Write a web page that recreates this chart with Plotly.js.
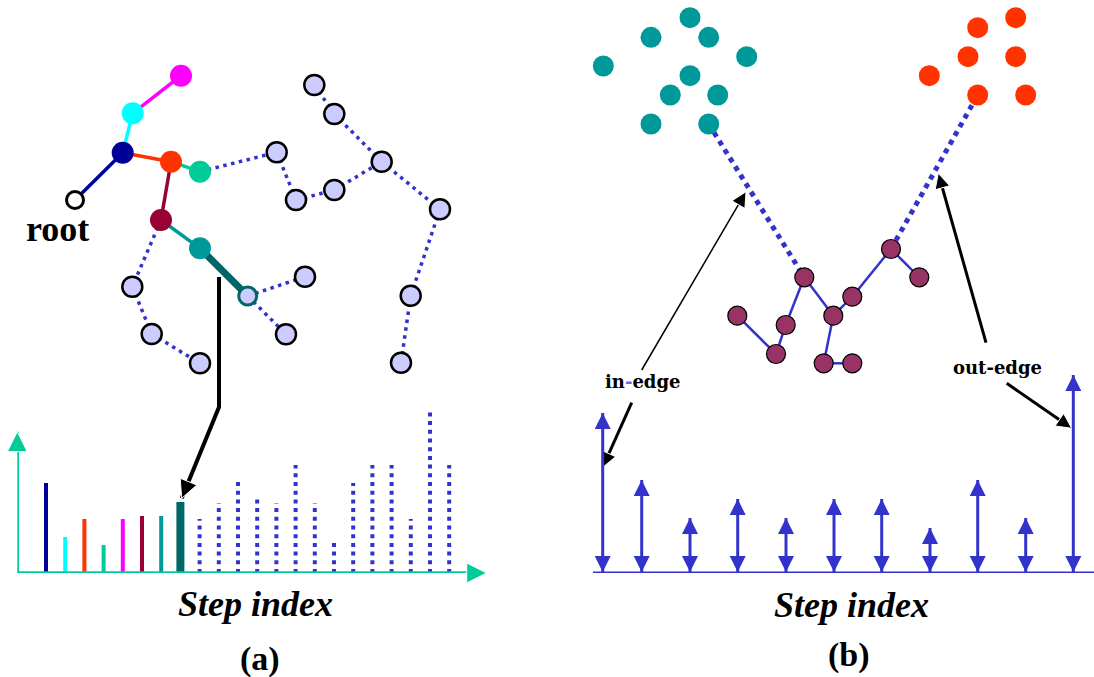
<!DOCTYPE html>
<html><head><meta charset="utf-8">
<script src="https://cdn.plot.ly/plotly-3.0.1.min.js"></script>
<style>html,body{margin:0;padding:0;background:#fff}#chart{width:1094px;height:677px}</style>
</head><body><div id="chart"></div>
<script>
// ================= DATA =================
// Panel (a): visited search-tree nodes (root first), diagram coordinates
const treeNodeX = [75, 122.7, 132.7, 181, 171, 200, 161, 200, 247.7];
const treeNodeY = [200, 152.7, 113.3, 75.7, 161.7, 171.7, 220, 248.3, 296];
// Panel (a): pending (not yet visited) nodes
const pendingNodeX = [314.3, 334.3, 276.7, 381.7, 296, 334.3, 440, 132.3, 305, 151.7, 286, 200, 410.7, 401];
const pendingNodeY = [85, 114, 152.3, 161.7, 200, 190, 209.3, 286.7, 276.7, 334, 334.3, 363.3, 295.7, 362.7];
// edges: indices into [tree nodes..., pending nodes...]
const treeEdges = [[0,1],[1,2],[2,3],[1,4],[4,5],[4,6],[6,7],[7,8]];
const pendingEdges = [[5,11],[11,13],[13,14],[14,12],[12,10],[10,9],[12,15],[15,21],[21,22],[6,16],[16,18],[18,20],[8,17],[8,19]];
// Panel (a): value per step index (first 8 steps are visited)
const stepIndexA = [0,1,2,3,4,5,6,7,8,9,10,11,12,13,14,15,16,17,18,19,20,21];
const stepValueA = [90,36,54,28,54,57,57,71,54,70,94,75,70,108,70,32,90,108,108,54,161,108];
const visitedStepsA = 8;
const stepAxisA = [-1.495, 22.953];
const stepAxisTopA = 141.3;
// Panel (a) callout arrow
const calloutAX = [219, 219, 181.7];
const calloutAY = [277, 407, 498.3];

// Panel (b): clusters
const tealClusterX = [690, 651, 708.7, 746.7, 603.3, 690, 670.3, 717.7, 651, 708.7];
const tealClusterY = [17.7, 37.3, 37.3, 56.7, 66, 75.7, 95, 95, 124, 124];
const redClusterX = [1015.7, 977.7, 968, 1015.7, 929.3, 977.7, 1025.7];
const redClusterY = [17.7, 27.7, 56.7, 56.7, 75.7, 95, 95];
const pathNodeX = [737.3, 776, 785.7, 804.3, 833.3, 823.7, 852.3, 852.3, 891, 919.3];
const pathNodeY = [315.7, 354, 325, 277.3, 315.7, 363.3, 363.3, 296.7, 249, 277.3];
const pathEdges = [[0,1],[1,2],[2,3],[3,4],[4,5],[5,6],[4,7],[7,8],[8,9]];
// in-edge: teal node 9 -> path node 3 ; out-edge: path node 8 -> red node 5
const inEdge = [9, 3];
const outEdge = [8, 5];
// Panel (b): step positions and in/out edge counts
const stepPosB = [602.7, 641.7, 690, 737.7, 786, 834, 881.7, 930, 977.7, 1025.7, 1073.3];
const stepValueB = [160, 93, 55, 74, 55, 74, 74, 45, 93, 55, 198];
const baselineB = [593, 1094];
// Panel (b) callout arrows [tailX, tailY, tipX, tipY]
const inEdgeArrowUp = [641.7, 370, 746, 191.7];
const inEdgeArrowDown = [631.7, 402.7, 602.7, 467.3];
const outEdgeArrowUp = [986, 342.7, 938.3, 173.3];
const outEdgeArrowDown = [1006.7, 383.3, 1071.7, 428.3];

// ================= STYLE =================
const BLUE = '#3333CC';
const treeNodeColors = ['#FFFFFF','#000099','#00FFFF','#FF00FF','#FF3300','#00CC99','#990033','#009999','#CCCCFF'];
const treeNodeLine = ['#000000','#000099','#00FFFF','#FF00FF','#FF3300','#00CC99','#990033','#009999','#006666'];
const treeNodeLineW = [3,0,0,0,0,0,0,0,3];
const treeNodeSize = [17,22,22,22,22,22,22,22,18];
const treeEdgeColors = ['#000099','#00FFFF','#FF00FF','#FF3300','#00CC99','#990033','#009999','#006666'];
const treeEdgeWidths = [3.5,3.5,3.5,3.5,3.5,3.5,3.5,7];
const barColorsA = ['#000099','#00FFFF','#FF3300','#00CC99','#FF00FF','#990033','#009999','#006666'];

const traces = [];
const allAX = treeNodeX.concat(pendingNodeX);
const allAY = treeNodeY.concat(pendingNodeY);
const base = {type:'scatter', hoverinfo:'skip', cliponaxis:false, showlegend:false};

// dotted pending edges (a)
(function(){
  const x=[], y=[];
  pendingEdges.forEach(([a,b])=>{x.push(allAX[a],allAX[b],null); y.push(allAY[a],allAY[b],null);});
  traces.push(Object.assign({}, base, {mode:'lines', x, y, line:{color:BLUE, width:3.5, dash:'3.5px,4.5px'}}));
})();
// solid tree edges (a)
treeEdges.forEach(([a,b],i)=>{
  traces.push(Object.assign({}, base, {mode:'lines', x:[allAX[a],allAX[b]], y:[allAY[a],allAY[b]],
    line:{color:treeEdgeColors[i], width:treeEdgeWidths[i]}}));
});
// callout arrow helper
function arrowTrace(xs, ys, color, width, head, xa, ya){
  return Object.assign({}, base, {mode:'lines+markers', x:xs, y:ys, xaxis:xa||'x', yaxis:ya||'y',
    line:{color, width},
    marker:{symbol:'arrow-up', angleref:'previous', color, opacity:1,
      size: xs.map((_,i)=> i===xs.length-1 ? head : 0)}});
}
traces.push(arrowTrace(calloutAX, calloutAY, '#000000', 4, 18));
// pending nodes (a)
traces.push(Object.assign({}, base, {mode:'markers', x:pendingNodeX, y:pendingNodeY,
  marker:{size:20, color:'#CCCCFF', opacity:1, line:{color:'#000000', width:2.5}}}));
// tree nodes (a)
traces.push(Object.assign({}, base, {mode:'markers', x:treeNodeX, y:treeNodeY,
  marker:{size:treeNodeSize, color:treeNodeColors, opacity:1, line:{color:treeNodeLine, width:treeNodeLineW}}}));

// step bars (a) on x2/y2
stepIndexA.forEach((s,i)=>{
  if(i < visitedStepsA){
    traces.push(Object.assign({}, base, {mode:'lines', xaxis:'x2', yaxis:'y2', x:[s,s], y:[0,stepValueA[i]],
      line:{color:barColorsA[i], width: i===visitedStepsA-1 ? 8 : 4}}));
  }
});
(function(){
  const x=[], y=[];
  stepIndexA.forEach((s,i)=>{ if(i>=visitedStepsA){x.push(s,s,null); y.push(0,stepValueA[i],null);} });
  traces.push(Object.assign({}, base, {mode:'lines', xaxis:'x2', yaxis:'y2', x, y, line:{color:BLUE, width:4, dash:'4px,4.7px'}}));
})();
// axes of (a)
traces.push(arrowTrace([stepAxisA[0], stepAxisA[0]], [0, stepAxisTopA], '#00CC99', 3.5, 20, 'x2', 'y2'));
traces.push(arrowTrace([stepAxisA[0], stepAxisA[1]], [0, 0], '#00CC99', 3.5, 20, 'x2', 'y2'));

// ---------- Panel (b) ----------
// dotted in/out edges
traces.push(Object.assign({}, base, {mode:'lines',
  x:[tealClusterX[inEdge[0]], pathNodeX[inEdge[1]], null, pathNodeX[outEdge[0]], redClusterX[outEdge[1]]],
  y:[tealClusterY[inEdge[0]], pathNodeY[inEdge[1]], null, pathNodeY[outEdge[0]], redClusterY[outEdge[1]]],
  line:{color:BLUE, width:5, dash:'5px,5px'}}));
// path edges
(function(){
  const x=[], y=[];
  pathEdges.forEach(([a,b])=>{x.push(pathNodeX[a],pathNodeX[b],null); y.push(pathNodeY[a],pathNodeY[b],null);});
  traces.push(Object.assign({}, base, {mode:'lines', x, y, line:{color:BLUE, width:2.5}}));
})();
traces.push(Object.assign({}, base, {mode:'markers', x:tealClusterX, y:tealClusterY, marker:{size:21, opacity:1, color:'#009999'}}));
traces.push(Object.assign({}, base, {mode:'markers', x:redClusterX, y:redClusterY, marker:{size:21, opacity:1, color:'#FF3300'}}));
traces.push(Object.assign({}, base, {mode:'markers', x:pathNodeX, y:pathNodeY, marker:{size:19, opacity:1, color:'#993366', line:{color:'#000000', width:1.2}}}));

// baseline (b)
traces.push(Object.assign({}, base, {mode:'lines', yaxis:'y2', x:baselineB, y:[0,0], line:{color:BLUE, width:3}}));
// double arrows (b)
(function(){
  const x=[], y=[];
  stepPosB.forEach((p,i)=>{x.push(p,p,null); y.push(0,stepValueB[i],null);});
  traces.push(Object.assign({}, base, {mode:'lines', yaxis:'y2', x, y, line:{color:BLUE, width:3}}));
  traces.push(Object.assign({}, base, {mode:'markers', yaxis:'y2', x:stepPosB, y:stepValueB, marker:{symbol:'arrow-up', size:16, opacity:1, color:BLUE}}));
  traces.push(Object.assign({}, base, {mode:'markers', yaxis:'y2', x:stepPosB, y:stepPosB.map(()=>1), marker:{symbol:'arrow-down', size:16, opacity:1, color:BLUE}}));
})();
// callout arrows (b)
[[inEdgeArrowUp,1.5],[inEdgeArrowDown,3],[outEdgeArrowUp,3],[outEdgeArrowDown,3]].forEach(([a,w])=>{
  traces.push(arrowTrace([a[0],a[2]],[a[1],a[3]],'#000000',w,15));
});

const serif = 'Liberation Serif, Times New Roman, serif';
const ann = (text, x, y, size, family, weight, style) => ({text, x, y, xref:'x', yref:'y', showarrow:false,
  xanchor:'center', yanchor:'middle', font:{family, size, color:'#000000', weight, style}});

const layout = {
  width:1094, height:677, margin:{l:0,r:0,t:0,b:0},
  paper_bgcolor:'#FFFFFF', plot_bgcolor:'rgba(0,0,0,0)', showlegend:false,
  xaxis:{range:[0,1094], visible:false, fixedrange:true},
  yaxis:{range:[677,0], visible:false, fixedrange:true},
  xaxis2:{domain:[17.3/1094, 486.7/1094], range:stepAxisA, visible:false, anchor:'y2'},
  yaxis2:{domain:[104/677, 1], range:[0,573], visible:false, anchor:'x2'},
  annotations:[
    ann('root', 57, 229, 36, serif, 'bold', 'normal'),
    ann('Step index', 255, 604, 36, serif, 'bold', 'italic'),
    ann('Step index', 851, 605, 36, serif, 'bold', 'italic'),
    ann('(a)', 260, 659, 34, serif, 'bold', 'normal'),
    ann('(b)', 849, 655, 34, serif, 'bold', 'normal'),
    ann('in<span style="color:#6666FF">-</span>edge', 643, 381, 18, 'DejaVu Serif, serif', 'bold', 'normal'),
    ann('out-edge', 997, 367, 18, 'DejaVu Serif, serif', 'bold', 'normal')
  ]
};
Plotly.newPlot('chart', traces, layout, {staticPlot:true, displayModeBar:false});
</script></body></html>
